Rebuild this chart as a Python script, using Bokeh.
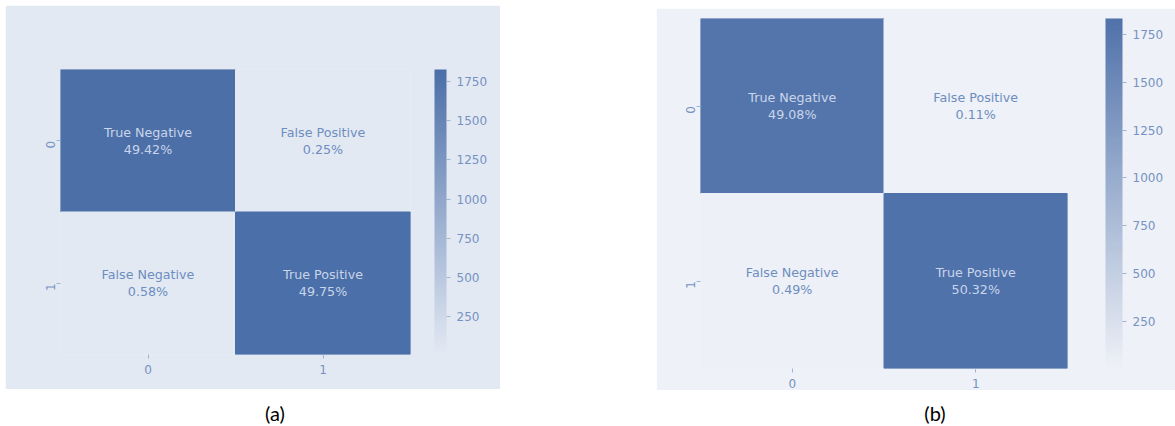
import math

from bokeh.core.properties import value
from bokeh.embed import file_html
from bokeh.layouts import column, row
from bokeh.models import (ColorBar, ColumnDataSource, Div, FixedTicker,
                          LinearColorMapper, Spacer)
from bokeh.plotting import figure
from bokeh.resources import INLINE

# ---- data -------------------------------------------------------------
class_labels = ["0", "1"]
actual = ["0", "0", "1", "1"]
predicted = ["0", "1", "0", "1"]
cell_names = ["True Negative", "False Positive", "False Negative", "True Positive"]

pct_a = [49.42, 0.25, 0.58, 49.75]
total_a = 3670
pct_b = [49.08, 0.11, 0.49, 50.32]
total_b = 3643

cbar_ticks = [250, 500, 750, 1000, 1250, 1500, 1750]
captions = ["(a)", "(b)"]


def ramp(c0, c1, n=256):
    a = [int(c0[i:i + 2], 16) for i in (1, 3, 5)]
    b = [int(c1[i:i + 2], 16) for i in (1, 3, 5)]
    out = []
    for k in range(n):
        t = k / (n - 1)
        out.append("#%02x%02x%02x" % tuple(round(a[j] + (b[j] - a[j]) * t) for j in range(3)))
    return out


def heatmap(pct, total, bg, dark, frame_w, frame_h, borders, cbar_w, cbar_off,
            text_size, tick_size):
    counts = [p * total / 100.0 for p in pct]
    mapper = LinearColorMapper(palette=ramp(bg, dark), low=min(counts), high=max(counts))
    mid = (min(counts) + max(counts)) / 2
    src = ColumnDataSource(dict(
        x=predicted, y=actual, count=counts,
        label=[f"{n}\n{p:.2f}%" for n, p in zip(cell_names, pct)],
        tcolor=["#c9d5ea" if c > mid else "#6d8dc0" for c in counts],
    ))
    left, right, top, bottom = borders
    p = figure(x_range=class_labels, y_range=list(reversed(class_labels)),
               frame_width=frame_w, frame_height=frame_h,
               min_border_left=left, min_border_right=right,
               min_border_top=top, min_border_bottom=bottom,
               toolbar_location=None, output_backend="svg",
               background_fill_color=bg, border_fill_color=bg,
               outline_line_color=None)
    cell_color = {"field": "count", "transform": mapper}
    p.rect(x="x", y="y", width=1, height=1, source=src,
           fill_color=cell_color, line_color=cell_color, line_width=1)
    p.text(x="x", y="y", text="label", source=src, text_align="center",
           text_baseline="middle", text_color="tcolor",
           text_font=value("DejaVu Sans"), text_font_size=text_size,
           text_line_height=1.15)
    p.grid.visible = False
    for ax in (p.xaxis, p.yaxis):
        ax.axis_line_color = None
        ax.major_tick_line_color = "#9fb3d5"
        ax.major_tick_out = 4
        ax.major_tick_in = 0
        ax.minor_tick_line_color = None
        ax.major_label_text_color = "#7592c2"
        ax.major_label_text_font = "DejaVu Sans"
        ax.major_label_text_font_size = tick_size
        ax.major_label_standoff = 6
    p.yaxis.major_label_orientation = math.pi / 2

    cb = ColorBar(color_mapper=mapper, ticker=FixedTicker(ticks=cbar_ticks),
                  width=cbar_w, padding=0, margin=0, location=(cbar_off, 0),
                  bar_line_color=None, major_tick_line_color="#9fb3d5",
                  major_tick_out=4, major_tick_in=0, minor_tick_line_color=None,
                  major_label_text_color="#7592c2",
                  major_label_text_font="DejaVu Sans",
                  major_label_text_font_size=tick_size, label_standoff=6,
                  background_fill_color=None, border_line_color=None)
    p.add_layout(cb, "right")
    return p


fig_a = heatmap(pct_a, total_a, "#e3e9f3", "#4b6fa8", 350, 285,
                (55, 90, 64, 35), 12, 24, "12.7px", "12px")
fig_b = heatmap(pct_b, total_b, "#eef1f7", "#5072aa", 367, 350,
                (44, 108, 10, 22), 17, 38, "12.7px", "12px")


def caption(txt):
    return Div(text=txt, width=60, height=30,
               styles={"font-family": "Lato", "font-size": "20px", "color": "#000",
                       "text-align": "center", "width": "60px"})


panels = row(Spacer(width=5), column(Spacer(height=5), fig_a),
             Spacer(width=156), column(Spacer(height=8), fig_b))
caps = row(Spacer(width=240), caption(captions[0]), Spacer(width=590), caption(captions[1]))
page = column(panels, Spacer(height=4), caps)

open("out.html", "w").write(file_html(page, INLINE))
